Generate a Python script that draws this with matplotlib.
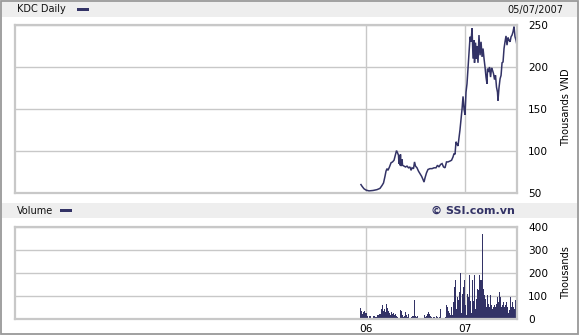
import numpy as np
import matplotlib
matplotlib.use("Agg")
import matplotlib.pyplot as plt
from matplotlib.patches import Rectangle

plt.rcParams['font.family'] = ['DejaVu Sans']

# ---------------- data ----------------
title = "KDC Daily"
date_label = "05/07/2007"
credit = "\u00a9 SSI.com.vn"
price_unit = "Thousands VND"
vol_unit = "Thousands"
year_ticks = [2006, 2007]
year_labels = ["06", "07"]
price_ticks = [50, 100, 150, 200, 250]
vol_ticks = [0, 100, 200, 300, 400]

# time in decimal years, price in thousands VND
price_t = [2005.949, 2005.960, 2005.980, 2006.000, 2006.030, 2006.071, 2006.111, 2006.141,
           2006.162, 2006.177, 2006.192, 2006.202, 2006.212, 2006.222, 2006.237, 2006.253,
           2006.268, 2006.283, 2006.298, 2006.308, 2006.318, 2006.328, 2006.333, 2006.338,
           2006.343, 2006.348, 2006.354, 2006.364, 2006.369, 2006.384, 2006.399, 2006.414,
           2006.429, 2006.444, 2006.455, 2006.465, 2006.480, 2006.490, 2006.500, 2006.515,
           2006.530, 2006.545, 2006.561, 2006.576, 2006.586, 2006.596, 2006.611, 2006.626,
           2006.646, 2006.667, 2006.687, 2006.707, 2006.722, 2006.737, 2006.753, 2006.768,
           2006.783, 2006.798, 2006.813, 2006.828, 2006.848, 2006.864, 2006.879, 2006.889,
           2006.899, 2006.909, 2006.919, 2006.929, 2006.939, 2006.949, 2006.960, 2006.970,
           2006.980, 2006.990, 2007.000, 2007.010, 2007.020, 2007.030, 2007.040, 2007.051,
           2007.061, 2007.071, 2007.081, 2007.091, 2007.096, 2007.106, 2007.116, 2007.121,
           2007.131, 2007.141, 2007.152, 2007.162, 2007.172, 2007.182, 2007.192, 2007.202,
           2007.212, 2007.222, 2007.227, 2007.237, 2007.247, 2007.258, 2007.268, 2007.278,
           2007.288, 2007.298, 2007.308, 2007.318, 2007.328, 2007.333, 2007.343, 2007.354,
           2007.364, 2007.374, 2007.384, 2007.394, 2007.404, 2007.414, 2007.424, 2007.434,
           2007.444, 2007.455, 2007.465, 2007.475, 2007.485, 2007.495, 2007.505, 2007.515,
           2007.525]
price = [60, 58, 55, 53.5, 52.5, 53, 54, 55.5,
         59, 62, 70, 76, 79, 77, 81, 86,
         87, 89, 96, 100.5, 98, 95, 85, 95,
         83, 96, 82, 90, 83, 82, 81, 82,
         80, 81, 77, 80, 79, 87, 82, 80,
         76, 73, 70, 66, 63, 68, 74, 78,
         79, 79, 80, 80, 83, 81, 84, 85,
         81, 80, 87, 87, 88, 89, 93, 97,
         96, 111, 108, 106, 115, 125, 138, 150,
         165, 150, 143, 170, 180, 198, 215, 236,
         230, 246, 210, 232, 205, 229, 210, 225,
         205, 238, 214, 230, 212, 222, 210, 200,
         188, 180, 198, 194, 200, 188, 199, 196,
         192, 185, 190, 176, 170, 160, 175, 186,
         190, 205, 206, 222, 230, 237, 226, 235,
         232, 230, 236, 238, 242, 248, 236, 232,
         226]

# volume (thousands of shares), sampled uniformly between these two times
vol_start, vol_end = 2005.939, 2007.525
volume = [48, 36, 23, 31, 35, 27, 27, 14, 5, 14, 14, 5, 5, 14, 14, 9, 9, 18, 18, 23,
          23, 44, 60, 36, 44, 31, 66, 48, 36, 27, 18, 31, 23, 27, 18, 23, 14, 9, 5, 5,
          40, 35, 18, 9, 14, 31, 18, 9, 23, 0, 0, 12, 14, 14, 83, 14, 9, 14, 5, 5,
          5, 5, 5, 5, 18, 9, 14, 23, 31, 23, 14, 9, 5, 9, 9, 5, 14, 9, 5, 9,
          44, 5, 3, 3, 3, 10, 60, 52, 35, 26, 17, 52, 17, 74, 139, 169, 44, 96, 83, 117,
          200, 26, 109, 139, 169, 60, 17, 109, 96, 190, 78, 26, 169, 78, 190, 44, 87, 130, 126, 190,
          169, 169, 368, 130, 104, 87, 52, 104, 65, 52, 104, 60, 44, 52, 60, 52, 65, 96, 74, 117,
          96, 52, 60, 74, 52, 60, 74, 52, 26, 39, 96, 52, 74, 52, 44, 83, 60, 52]

x_range = (2002.455, 2007.525)

# ---------------- style ----------------
W, H = 579, 335
NAVY = "#333366"
GRID = "#c8c8c8"
BAND = "#eeeeee"


def fx(px):
    return px / W


def fy(py):
    return 1 - py / H


fig = plt.figure(figsize=(W / 100, H / 100), dpi=100)
fig.patch.set_facecolor("white")

# header bands
for y0, y1 in [(2, 16.7), (202.7, 217.7)]:
    fig.patches.append(Rectangle((fx(2), fy(y1)), fx(575), (y1 - y0) / H,
                                 transform=fig.transFigure, facecolor=BAND,
                                 edgecolor="none", zorder=0))
# outer border
fig.patches.append(Rectangle((0.6 / W, 0.6 / H), (W - 1.2) / W, (H - 1.2) / H,
                             transform=fig.transFigure, fill=False,
                             edgecolor="#999999", lw=1.3, zorder=5))

ax1 = fig.add_axes([fx(15), fy(193), (517 - 15) / W, (193 - 25) / H])
ax2 = fig.add_axes([fx(15), fy(319.3), (517 - 15) / W, (319.3 - 226.7) / H])

for ax in (ax1, ax2):
    for s in ax.spines.values():
        s.set_color(GRID)
        s.set_linewidth(1.6)
    ax.set_xlim(*x_range)
    ax.set_xticks(year_ticks)
    ax.grid(True, color=GRID, lw=1)
    ax.set_axisbelow(True)
    ax.yaxis.tick_right()
    ax.tick_params(axis="y", length=0, labelsize=7.6, pad=8, labelcolor="#000000")
    ax.tick_params(axis="x", length=0, labelsize=7.6, pad=3.5)

# price panel
ax1.plot(price_t, price, color=NAVY, lw=1.1, solid_joinstyle="miter")
ax1.set_ylim(50, 250)
ax1.set_yticks(price_ticks)
ax1.set_xticklabels([])

# volume panel
vol_t = np.linspace(vol_start, vol_end, len(volume))
step = vol_t[1] - vol_t[0]
ax2.bar(vol_t, volume, width=step, color=NAVY, edgecolor="none", align="edge")
ax2.set_ylim(0, 400)
ax2.set_yticks(vol_ticks)
ax2.set_xticklabels(year_labels)

# texts
fig.text(fx(17), fy(9.5), title, fontsize=7, ha="left", va="center", color="#111111")
fig.patches.append(Rectangle((fx(77), fy(10.5)), 12 / W, 3 / H, transform=fig.transFigure,
                             facecolor=NAVY, edgecolor="none"))
fig.text(fx(563), fy(9.5), date_label, fontsize=7, ha="right", va="center", color="#111111")
fig.text(fx(17), fy(210.5), "Volume", fontsize=7, ha="left", va="center", color="#111111")
fig.patches.append(Rectangle((fx(60), fy(211.5)), 12 / W, 3 / H, transform=fig.transFigure,
                             facecolor=NAVY, edgecolor="none"))
fig.text(fx(515), fy(210.5), credit, fontsize=8, fontweight="bold", ha="right",
         va="center", color=NAVY)
fig.text(fx(566), fy(107), price_unit, fontsize=7, rotation=90, ha="center", va="center")
fig.text(fx(566), fy(273), vol_unit, fontsize=7, rotation=90, ha="center", va="center")

fig.savefig("out.png", dpi=100)
